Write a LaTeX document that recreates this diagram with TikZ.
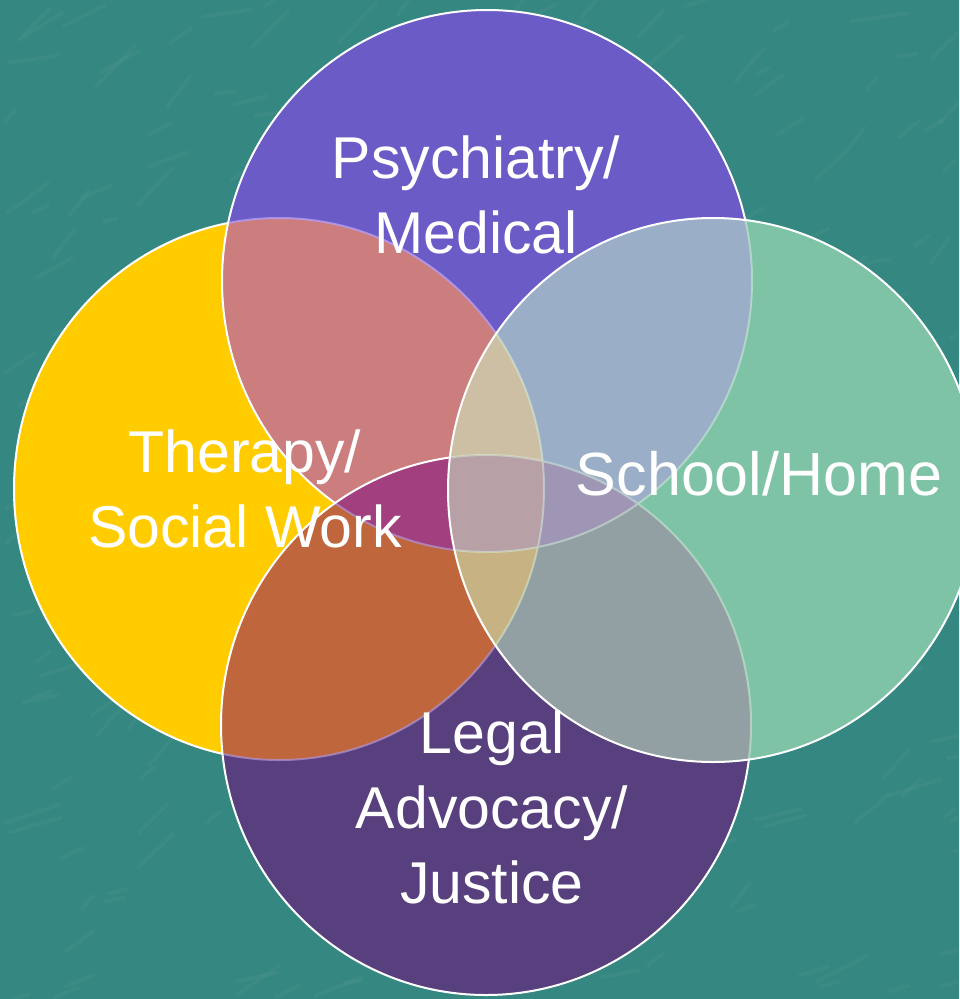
\documentclass[tikz,border=0pt]{standalone}
\usepackage{fontspec}
\setmainfont{Liberation Sans}

% background and single-set fills
\definecolor{bgTeal}{HTML}{358781}
\definecolor{colL}{HTML}{FFCC00}
\definecolor{colT}{HTML}{6B5BC6}
\definecolor{colB}{HTML}{58407F}
\definecolor{colR}{HTML}{7FC3A7}
% two-set overlaps
\definecolor{colTL}{HTML}{CB7E7D}
\definecolor{colTR}{HTML}{9AAEC7}
\definecolor{colLB}{HTML}{BF663C}
\definecolor{colRB}{HTML}{92A0A3}
\definecolor{colTB}{HTML}{A095B0}
\definecolor{colLR}{HTML}{C9B894}
% three-set overlaps
\definecolor{colTLB}{HTML}{A23F7F}
\definecolor{colTLR}{HTML}{CCBFA3}
\definecolor{colLRB}{HTML}{C6B283}
\definecolor{colTRB}{HTML}{9F96B5}
% all four
\definecolor{colAll}{HTML}{B7A0A6}
% rim tints where a ring passes under a later disc
\definecolor{tintT}{HTML}{B79CF2}
\definecolor{tintB}{HTML}{B294D6}
\definecolor{tintR}{HTML}{DDFBE0}

\newcommand\paint[3]{\begin{scope}#1\fill[#2] #3;\end{scope}}

\begin{document}
\begin{tikzpicture}[x=1pt,y=-1pt,
  rim/.style={draw=white, line width=2pt},
  lbl/.style={text=white, font=\fontsize{59}{75}\selectfont,
              align=center, inner sep=0pt, anchor=base}]

% canvas
\useasboundingbox (0,0) rectangle (959,999);
\fill[bgTeal] (0,0) rectangle (959,999);

% marbled streaks on the backdrop
\pgfmathsetseed{42}
\foreach \i in {1,...,320}{
  \pgfmathsetmacro\xa{rnd*959}
  \pgfmathsetmacro\ya{rnd*999}
  \pgfmathsetmacro\ln{12+rnd*45}
  \pgfmathsetmacro\an{5+rnd*50}
  \draw[white, opacity=0.03, line width=4pt, line cap=round]
    (\xa,\ya) -- ++(-\an:\ln);
}

% disc centres
\coordinate (cL) at (279,489);
\coordinate (cT) at (487,281);
\coordinate (cB) at (486,725);
\coordinate (cR) at (713,490);

\def\ovL{(cL) ellipse [x radius=265pt, y radius=271pt]}
\def\ovT{(cT) ellipse [x radius=265pt, y radius=271pt]}
\def\ovB{(cB) ellipse [x radius=265pt, y radius=270pt]}
\def\ovR{(cR) ellipse [x radius=265pt, y radius=272pt]}

% ---- Therapy / Social Work disc
\begin{scope}
  \clip \ovL;
  \fill[colL] \ovL;
  \paint{\clip\ovT;}{colTL}{\ovL}
  \paint{\clip\ovB;}{colLB}{\ovL}
  \paint{\clip\ovR;}{colLR}{\ovL}
  \paint{\clip\ovT;\clip\ovB;}{colTLB}{\ovL}
  \paint{\clip\ovT;\clip\ovR;}{colTLR}{\ovL}
  \paint{\clip\ovB;\clip\ovR;}{colLRB}{\ovL}
  \paint{\clip\ovT;\clip\ovB;\clip\ovR;}{colAll}{\ovL}
\end{scope}
\draw[rim] \ovL;

% ---- Psychiatry / Medical disc
\begin{scope}
  \clip \ovT;
  \fill[colT] \ovT;
  \paint{\clip\ovL;}{colTL}{\ovT}
  \paint{\clip\ovB;}{colTB}{\ovT}
  \paint{\clip\ovR;}{colTR}{\ovT}
  \paint{\clip\ovL;\clip\ovB;}{colTLB}{\ovT}
  \paint{\clip\ovL;\clip\ovR;}{colTLR}{\ovT}
  \paint{\clip\ovB;\clip\ovR;}{colTRB}{\ovT}
  \paint{\clip\ovL;\clip\ovB;\clip\ovR;}{colAll}{\ovT}
  \draw[tintT, line width=2pt, opacity=0.8] \ovL;
\end{scope}
\draw[rim] \ovT;

% ---- Legal Advocacy / Justice disc
\begin{scope}
  \clip \ovB;
  \fill[colB] \ovB;
  \paint{\clip\ovL;}{colLB}{\ovB}
  \paint{\clip\ovT;}{colTB}{\ovB}
  \paint{\clip\ovR;}{colRB}{\ovB}
  \paint{\clip\ovL;\clip\ovT;}{colTLB}{\ovB}
  \paint{\clip\ovL;\clip\ovR;}{colLRB}{\ovB}
  \paint{\clip\ovT;\clip\ovR;}{colTRB}{\ovB}
  \paint{\clip\ovL;\clip\ovT;\clip\ovR;}{colAll}{\ovB}
  \draw[tintB, line width=2pt, opacity=0.7] \ovL \ovT;
\end{scope}
\draw[rim] \ovB;

% ---- School / Home disc
\begin{scope}
  \clip \ovR;
  \fill[colR] \ovR;
  \paint{\clip\ovL;}{colLR}{\ovR}
  \paint{\clip\ovT;}{colTR}{\ovR}
  \paint{\clip\ovB;}{colRB}{\ovR}
  \paint{\clip\ovL;\clip\ovT;}{colTLR}{\ovR}
  \paint{\clip\ovL;\clip\ovB;}{colLRB}{\ovR}
  \paint{\clip\ovT;\clip\ovB;}{colTRB}{\ovR}
  \paint{\clip\ovL;\clip\ovT;\clip\ovB;}{colAll}{\ovR}
  \draw[tintR, line width=2pt, opacity=0.45] \ovL \ovT \ovB;
\end{scope}
\draw[rim] \ovR;

% labels (anchored at the baseline of the last line)
\node[lbl] (psy) at (476,253) {Psychiatry/\\Medical};
\node[lbl] (ther) at (245,547) {Therapy/\\Social Work};
\node[lbl, font=\fontsize{61}{75}\selectfont] (school) at (759,495) {School/Home};
\node[lbl] (legal) at (492,903) {Legal\\Advocacy/\\Justice};
\end{tikzpicture}
\end{document}
